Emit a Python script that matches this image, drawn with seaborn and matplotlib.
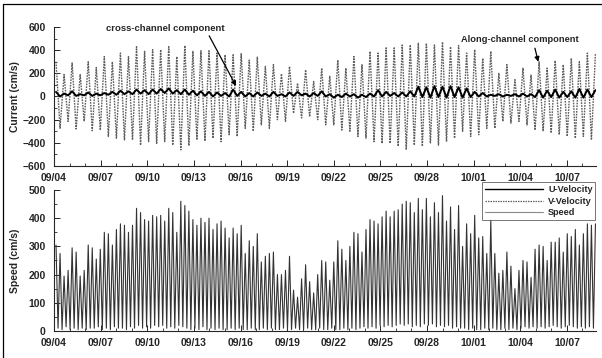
import numpy as np
import pandas as pd
import matplotlib
matplotlib.use("Agg")
import matplotlib.pyplot as plt
import seaborn as sns
from matplotlib.lines import Line2D
from matplotlib.ticker import MultipleLocator

# ---------------- data ----------------
tick_days = [0, 3, 6, 9, 12, 15, 18, 21, 24, 27, 30, 33]
tick_labels = ["09/04", "09/07", "09/10", "09/13", "09/16", "09/19",
               "09/22", "09/25", "09/28", "10/01", "10/04", "10/07"]
x_end_days = 34.87          # right end of the time axis (days after 09/04 00:00)
t_first = 0.13              # time of first flood peak (days after 09/04 00:00)
tide_period = 0.518         # days between successive flood peaks

# along-channel (V) flood peaks and ebb troughs, cm/s
along_max = [300, 190, 290, 190, 300, 250, 345, 300, 375, 345, 430, 390, 405, 405, 430, 345, 440,
             390, 395, 395, 375, 360, 360, 370, 315, 340, 260, 275, 195, 260, 115, 230, 130, 245,
             175, 315, 245, 345, 275, 390, 375, 420, 420, 445, 445, 460, 460, 445, 470, 430, 440,
             375, 405, 330, 390, 200, 275, 145, 245, 185, 300, 245, 310, 275, 330, 300, 375, 375]
along_min = [-275, -215, -280, -215, -295, -290, -345, -360, -375, -375, -420, -390, -405, -390, -420, -460, -425,
             -375, -385, -360, -390, -330, -345, -275, -300, -245, -275, -200, -215, -145, -185, -175, -200, -245,
             -245, -290, -300, -345, -360, -390, -405, -405, -430, -460, -420, -430, -405, -420, -390, -360, -300,
             -345, -330, -275, -275, -215, -230, -215, -245, -290, -300, -315, -330, -345, -360, -345, -375]

# cross-channel (U) values at the same instants, cm/s
cross_hi = [40, 25, 45, 20, 35, 25, 30, 40, 50, 45, 60, 55, 60, 65, 70, 55, 60,
            50, 45, 40, 35, 30, 60, 40, 30, 35, 25, 40, 20, 35, 40, 25, 30, 45,
            20, 15, 25, 20, 15, 25, 55, 40, 30, 35, 45, 85, 80, 90, 85, 90, 80,
            70, 40, 30, 15, 20, 15, 20, 25, 20, 55, 50, 60, 40, 45, 65, 60, 55]
cross_lo = [0, 10, 5, 10, 5, 10, 15, 15, 20, 20, 25, 20, 25, 30, 25, 20, 15,
            10, 5, 0, 5, 0, 5, 0, 0, 5, 0, 5, 0, 5, 10, 0, 5, 0,
            -10, -5, 0, -10, -5, 0, 0, 5, 0, 0, 0, -5, -10, -5, -10, -5, -10,
            -5, 0, 0, 5, 0, 5, 0, 0, -5, -10, -5, -10, -5, -10, -10, -5]

# speed peaks (flood / ebb) and slack-water minima, cm/s
speed_flood = [305, 195, 295, 195, 305, 255, 350, 305, 380, 350, 435, 395, 410, 410, 435, 350, 445,
               395, 400, 400, 380, 365, 365, 375, 320, 345, 265, 280, 200, 265, 120, 235, 135, 250,
               180, 320, 250, 350, 280, 395, 380, 425, 425, 450, 455, 470, 470, 455, 480, 440, 445,
               380, 410, 335, 395, 205, 280, 150, 250, 190, 305, 250, 315, 280, 335, 305, 380, 380]
speed_ebb = [275, 215, 280, 215, 295, 290, 345, 360, 375, 375, 420, 390, 405, 390, 420, 460, 425,
             375, 385, 360, 390, 330, 345, 275, 300, 245, 275, 200, 215, 145, 185, 175, 200, 245,
             245, 290, 300, 345, 360, 390, 405, 405, 430, 460, 420, 430, 405, 420, 390, 360, 300,
             345, 330, 275, 275, 215, 230, 215, 245, 290, 300, 315, 330, 345, 360, 345, 375]
speed_slack = [10, 5, 15, 5, 10, 5, 10, 5, 10, 10, 15, 5, 10, 5, 15, 10, 10, 5, 15, 10, 20, 10, 15, 10, 20, 15, 20, 10, 15, 10, 20, 15, 10,
               5, 10, 5, 15, 5, 10, 5, 10, 5, 5, 10, 5, 10, 5, 5, 10, 5, 5, 10, 5, 10, 5, 5, 10, 5, 5, 10, 5, 5, 10, 5, 5, 10, 5,
               5, 10, 5, 5, 10, 5, 10, 5, 10, 15, 10, 15, 10, 20, 15, 20, 15, 20, 25, 20, 25, 15, 20, 15, 25, 20, 25, 15, 20, 15, 20, 10, 15, 10,
               10, 5, 10, 5, 5, 10, 5, 10, 5, 5, 10, 5, 10, 5, 10, 15, 10, 15, 10, 15, 10, 15, 20, 15, 10, 15, 20, 15, 10, 15, 10, 15, 10]

# ---------------- build tables ----------------
def interleave(a, b):
    out = []
    for i in range(len(a)):
        out.append(a[i])
        if i < len(b):
            out.append(b[i])
    return out

v_vals = interleave(along_max, along_min)
u_vals = interleave(cross_hi, cross_lo)
half = tide_period / 2.0
t_half = [t_first + j * half for j in range(len(v_vals))]
top = pd.DataFrame({"t": t_half, "V": v_vals, "U": u_vals})

peaks = interleave(speed_flood, speed_ebb)
s_vals = interleave(peaks, speed_slack)
t_q = [t_first + j * half / 2.0 for j in range(len(s_vals))]
bot = pd.DataFrame({"t": t_q, "S": s_vals})

# ---------------- style ----------------
sns.set_style("ticks")
plt.rcParams["font.family"] = ["Liberation Sans", "DejaVu Sans"]
plt.rcParams["font.weight"] = "bold"
plt.rcParams["axes.labelweight"] = "bold"
plt.rcParams["xtick.direction"] = "in"
plt.rcParams["ytick.direction"] = "in"

fig = plt.figure(figsize=(6.02, 3.58), dpi=100)
fig.patch.set_facecolor("white")
ax1 = fig.add_axes([0.0897, 0.5363, 0.9003, 0.3883])
ax2 = fig.add_axes([0.0897, 0.0754, 0.9003, 0.3939])

c_v = "#5e5e5e"
c_s = "#333333"

sns.lineplot(data=top, x="t", y="V", ax=ax1, color=c_v, lw=1.0,
             linestyle=(0, (1.2, 0.8)), estimator=None, sort=False)
sns.lineplot(data=top, x="t", y="U", ax=ax1, color="black", lw=1.4,
             estimator=None, sort=False)
sns.lineplot(data=bot, x="t", y="S", ax=ax2, color=c_s, lw=0.8,
             estimator=None, sort=False)

for ax in (ax1, ax2):
    ax.set_xlim(0, x_end_days)
    ax.set_xticks(tick_days)
    ax.set_xticklabels(tick_labels)
    ax.xaxis.set_minor_locator(MultipleLocator(1))
    ax.tick_params(axis="x", which="major", labelsize=7.5, length=4, width=0.7, pad=5)
    ax.tick_params(axis="y", which="major", labelsize=7.5, length=4, width=0.7, pad=6)
    ax.tick_params(axis="both", which="minor", length=2, width=0.6)
    for lab in ax.get_xticklabels() + ax.get_yticklabels():
        lab.set_fontweight("bold")
    sns.despine(ax=ax, top=True, right=True)
    for sp in ("left", "bottom"):
        ax.spines[sp].set_linewidth(0.8)
    ax.set_xlabel("")

ax1.set_ylim(-600, 600)
ax1.set_yticks([-600, -400, -200, 0, 200, 400, 600])
ax1.yaxis.set_minor_locator(MultipleLocator(100))
ax1.set_ylabel("Current (cm/s)", fontsize=7.5, fontweight="bold", labelpad=2)

ax2.set_ylim(0, 500)
ax2.set_yticks([0, 100, 200, 300, 400, 500])
ax2.yaxis.set_minor_locator(MultipleLocator(50))
ax2.set_ylabel("Speed (cm/s)", fontsize=7.5, fontweight="bold", labelpad=6)

# annotations
ax1.text(7.16, 585, "cross-channel component", ha="center", va="center",
         fontsize=6.8, fontweight="bold")
ax1.annotate("", xy=(11.8, 69), xytext=(9.9, 545),
             arrowprops=dict(arrowstyle="-|>", lw=0.9, color="black", mutation_scale=7))
ax1.text(29.97, 492, "Along-channel component", ha="center", va="center",
         fontsize=6.7, fontweight="bold")
ax1.annotate("", xy=(31.2, 276), xytext=(30.9, 440),
             arrowprops=dict(arrowstyle="-|>", lw=0.9, color="black", mutation_scale=7))

# legend
handles = [Line2D([], [], color="black", lw=1.0),
           Line2D([], [], color=c_v, lw=0.9, linestyle=(0, (1.2, 0.8))),
           Line2D([], [], color="#8a8a8a", lw=0.8)]
leg = ax2.legend(handles, ["U-Velocity", "V-Velocity", "Speed"],
                 loc="upper right", bbox_to_anchor=(0.999, 1.055),
                 fontsize=6.6, frameon=True, fancybox=False, handlelength=6.3,
                 labelspacing=0.3, borderpad=0.3, handletextpad=0.6,
                 borderaxespad=0.0)
leg.get_frame().set_edgecolor("#555555")
leg.get_frame().set_linewidth(0.7)
for txt in leg.get_texts():
    txt.set_fontweight("bold")

# scan frame
fig.add_artist(Line2D([3 / 602, 3 / 602], [0, 1 - 4 / 358], color="black", lw=0.9,
                      transform=fig.transFigure))
fig.add_artist(Line2D([3 / 602, 1], [1 - 4 / 358, 1 - 4 / 358], color="black", lw=0.9,
                      transform=fig.transFigure))

fig.savefig("out.png", dpi=100)
